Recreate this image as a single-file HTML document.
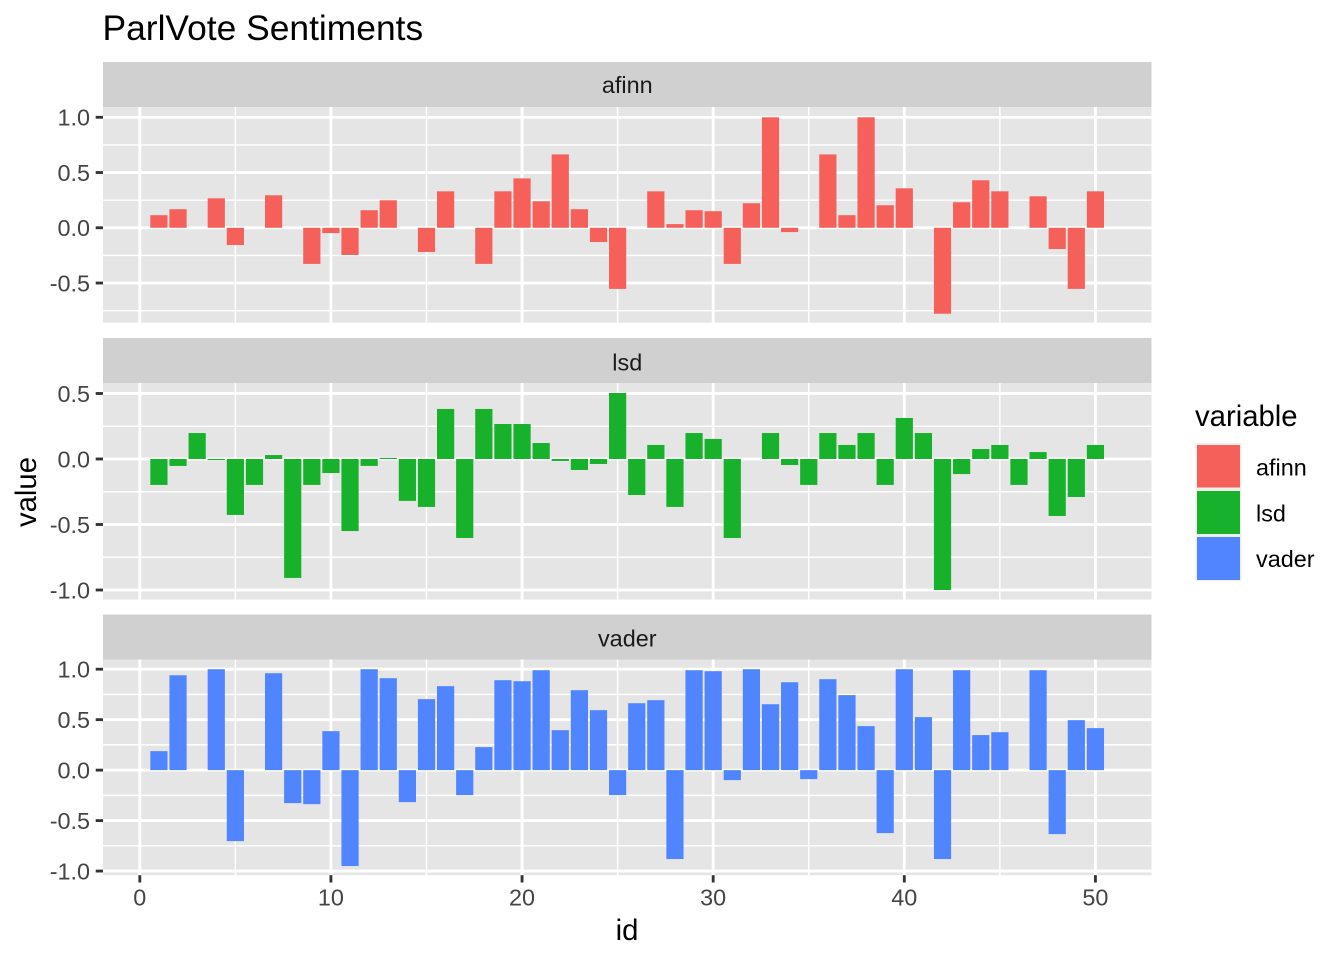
<!DOCTYPE html>
<html lang="en">
<head>
<meta charset="utf-8">
<title>ParlVote Sentiments</title>
<style>
html,body{margin:0;padding:0;background:#fff;}
#chart{display:block;width:1344px;height:960px;font-family:"Liberation Sans",Arial,sans-serif;}
</style>
</head>
<body>
<svg id="chart" xmlns="http://www.w3.org/2000/svg" width="1344" height="960" viewBox="0 0 1344 960">
  <rect x="0" y="0" width="1344" height="960" fill="#ffffff"/>
  <text x="102.5" y="40" font-size="35.4" fill="#000000">ParlVote Sentiments</text>
  <g id="panels"></g>
  <text x="627" y="940" font-size="29.3" text-anchor="middle" fill="#000000">id</text>
  <text transform="translate(36 492) rotate(-90)" font-size="29.3" text-anchor="middle" fill="#000000">value</text>
  <g>
    <text x="1195" y="426" font-size="29.3" fill="#000000">variable</text>
    <g>
      <rect x="1195.5" y="443" width="46" height="46" fill="#efefef"/>
      <rect x="1197" y="445" width="43" height="42.5" fill="#f5605b"/>
      <text x="1256" y="475.5" font-size="23.4" fill="#000000">afinn</text>
    </g>
    <g>
      <rect x="1195.5" y="489" width="46" height="46" fill="#efefef"/>
      <rect x="1197" y="491" width="43" height="43" fill="#18b12c"/>
      <text x="1256" y="521.5" font-size="23.4" fill="#000000">lsd</text>
    </g>
    <g>
      <rect x="1195.5" y="535" width="46" height="46" fill="#efefef"/>
      <rect x="1197" y="537" width="43" height="43" fill="#5085ff"/>
      <text x="1256" y="567" font-size="23.4" fill="#000000">vader</text>
    </g>
  </g>
</svg>
<script>
const ids = [1,2,3,4,5,6,7,8,9,10,11,12,13,14,15,16,17,18,19,20,21,22,23,24,25,26,27,28,29,30,31,32,33,34,35,36,37,38,39,40,41,42,43,44,45,46,47,48,49,50];
const afinnValues = [0.114,0.168,0,0.267,-0.156,0,0.294,0,-0.327,-0.048,-0.246,0.159,0.249,0,-0.219,0.33,0,-0.327,0.33,0.447,0.24,0.664,0.168,-0.129,-0.553,0,0.33,0.033,0.159,0.15,-0.327,0.222,1,-0.039,0,0.664,0.114,1,0.204,0.357,0,-0.778,0.231,0.43,0.33,0,0.285,-0.192,-0.553,0.33];
const lsdValues = [-0.198,-0.053,0.198,-0.008,-0.427,-0.198,0.03,-0.908,-0.198,-0.107,-0.55,-0.053,0.008,-0.32,-0.366,0.382,-0.603,0.382,0.267,0.267,0.122,-0.015,-0.084,-0.038,0.504,-0.275,0.107,-0.366,0.198,0.153,-0.603,0,0.198,-0.046,-0.198,0.198,0.107,0.198,-0.198,0.313,0.198,-1,-0.115,0.076,0.107,-0.198,0.053,-0.435,-0.29,0.107];
const vaderValues = [0.188,0.94,0,1,-0.703,0,0.96,-0.327,-0.337,0.386,-0.95,1,0.911,-0.317,0.703,0.832,-0.248,0.228,0.891,0.881,0.99,0.396,0.792,0.594,-0.248,0.663,0.693,-0.881,0.99,0.98,-0.099,1,0.653,0.871,-0.089,0.901,0.743,0.436,-0.624,1,0.525,-0.881,0.99,0.347,0.376,0,0.99,-0.634,0.495,0.416];
const xMajorTicks = [0,10,20,30,40,50];
const xMinorTicks = [5,15,25,35,45];
const xDomain = [-1.926, 52.934];
const afinnTicks = [1,0.5,0,-0.5];
const afinnTickLabels = ['1.0','0.5','0.0','-0.5'];
const afinnMinor = [0.75,0.25,-0.25,-0.75];
const afinnDomain = [-0.859,1.093];
const lsdTicks = [0.5,0,-0.5,-1];
const lsdTickLabels = ['0.5','0.0','-0.5','-1.0'];
const lsdMinor = [0.25,-0.25,-0.75];
const lsdDomain = [-1.0725,0.58];
const vaderTicks = [1,0.5,0,-0.5,-1];
const vaderTickLabels = ['1.0','0.5','0.0','-0.5','-1.0'];
const vaderMinor = [0.75,0.25,-0.25,-0.75];
const vaderDomain = [-1.041,1.096];

const NS = 'http://www.w3.org/2000/svg';
const PLOT_LEFT = 103, PLOT_RIGHT = 1151.5, BAR_WIDTH_UNITS = 0.9;
function xScale(v) {
  return PLOT_LEFT + (v - xDomain[0]) / (xDomain[1] - xDomain[0]) * (PLOT_RIGHT - PLOT_LEFT);
}
function makeYScale(domain, top, bottom) {
  return function (v) {
    return bottom - (v - domain[0]) / (domain[1] - domain[0]) * (bottom - top);
  };
}
function make(tag, parent, attrs) {
  const el = document.createElementNS(NS, tag);
  for (const k in attrs) el.setAttribute(k, attrs[k]);
  parent.appendChild(el);
  return el;
}

function drawPanel(cfg) {
  const root = document.getElementById('panels');
  const g = make('g', root, {});
  
  
  const y = makeYScale(cfg.domain, cfg.top, cfg.bottom);

  const strip = make('rect', g, {x: PLOT_LEFT, y: cfg.stripTop, width: PLOT_RIGHT - PLOT_LEFT, height: cfg.top - cfg.stripTop, fill: '#d0d0d0'});
  
  

  const stripLabel = make('text', g, {x: (PLOT_LEFT + PLOT_RIGHT) / 2, y: cfg.stripBaseline, 'font-size': 23.4, 'text-anchor': 'middle', fill: '#1a1a1a'});
  stripLabel.textContent = cfg.name;
  
  

  const bg = make('rect', g, {x: PLOT_LEFT, y: cfg.top, width: PLOT_RIGHT - PLOT_LEFT, height: cfg.bottom - cfg.top, fill: '#e5e5e5'});
  
  

  cfg.minor.forEach(function (v) {
    const l = make('line', g, {x1: PLOT_LEFT, x2: PLOT_RIGHT, y1: y(v), y2: y(v), stroke: '#ffffff', 'stroke-width': 1.42});
    
    
  });
  xMinorTicks.forEach(function (v) {
    const l = make('line', g, {x1: xScale(v), x2: xScale(v), y1: cfg.top, y2: cfg.bottom, stroke: '#ffffff', 'stroke-width': 1.42});
    
    
  });
  cfg.ticks.forEach(function (v) {
    const l = make('line', g, {x1: PLOT_LEFT, x2: PLOT_RIGHT, y1: y(v), y2: y(v), stroke: '#ffffff', 'stroke-width': 2.84});
    
    
  });
  xMajorTicks.forEach(function (v) {
    const l = make('line', g, {x1: xScale(v), x2: xScale(v), y1: cfg.top, y2: cfg.bottom, stroke: '#ffffff', 'stroke-width': 2.84});
    
    
  });

  cfg.values.forEach(function (v, i) {
    const cx = xScale(ids[i]);
    const half = BAR_WIDTH_UNITS / 2 * (xScale(1) - xScale(0));
    const y0 = y(0), yv = y(v);
    const bar = make('rect', g, {x: cx - half, y: Math.min(y0, yv), width: half * 2, height: Math.abs(yv - y0), fill: cfg.color});
    
    
  });

  cfg.ticks.forEach(function (v, i) {
    const t = make('line', g, {x1: PLOT_LEFT - 7.3, x2: PLOT_LEFT, y1: y(v), y2: y(v), stroke: '#333333', 'stroke-width': 2.84});
    
    
    const lab = make('text', g, {x: 90, y: y(v) + 8.4, 'font-size': 23.4, 'text-anchor': 'end', fill: '#444444'});
    lab.textContent = cfg.tickLabels[i];
    
    
  });

  if (cfg.showX) {
    xMajorTicks.forEach(function (v) {
      const t = make('line', g, {x1: xScale(v), x2: xScale(v), y1: cfg.bottom, y2: cfg.bottom + 7.3, stroke: '#333333', 'stroke-width': 2.84});
      
      
      const lab = make('text', g, {x: xScale(v), y: 905.5, 'font-size': 23.4, 'text-anchor': 'middle', fill: '#444444'});
      lab.textContent = String(v);
      
      
    });
  }
}

drawPanel({name: 'afinn', values: afinnValues, color: '#f5605b', ticks: afinnTicks, tickLabels: afinnTickLabels, minor: afinnMinor, domain: afinnDomain, stripTop: 62, stripBaseline: 93, top: 107, bottom: 322.7, showX: false});
drawPanel({name: 'lsd', values: lsdValues, color: '#18b12c', ticks: lsdTicks, tickLabels: lsdTickLabels, minor: lsdMinor, domain: lsdDomain, stripTop: 338, stripBaseline: 370.5, top: 383, bottom: 599.5, showX: false});
drawPanel({name: 'vader', values: vaderValues, color: '#5085ff', ticks: vaderTicks, tickLabels: vaderTickLabels, minor: vaderMinor, domain: vaderDomain, stripTop: 614.5, stripBaseline: 646.5, top: 659.5, bottom: 875.2, showX: true});
</script>
</body>
</html>
